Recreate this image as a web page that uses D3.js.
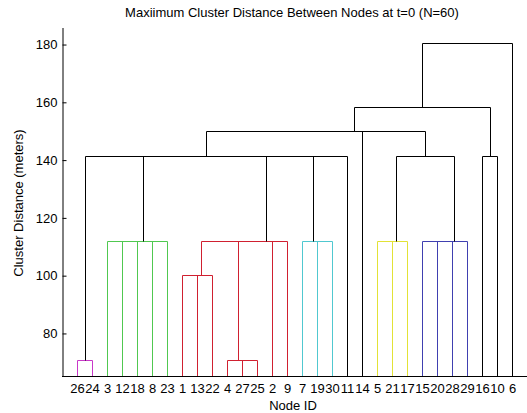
<!DOCTYPE html>
<html>
<head>
<meta charset="utf-8">
<script src="https://cdn.jsdelivr.net/npm/d3@7"></script>
<style>
  body { margin: 0; background: #fff; }
  svg { display: block; font-family: "Liberation Sans", Arial, sans-serif; }
  .axis text { font-size: 13px; fill: #000; }
  .axis path, .axis line { stroke: #000; }
</style>
</head>
<body>
<svg width="527" height="413"></svg>
<script>
// leaves are node ids 1..30, merge k (0-based) creates node 31+k, as in MATLAB's linkage
var nLeaves = 30;
var linkLeft  = [27,  4, 26,  1, 34,  3, 36,  8, 37, 35, 40, 41, 19,  7,  5, 45, 15, 47, 48, 33, 44, 42, 50, 46, 16, 53, 56, 57, 58];
var linkRight = [25, 31, 24, 13, 22, 12, 18, 23, 38, 32,  2,  9, 30, 43, 21, 17, 20, 28, 29, 39, 11, 51, 52, 49, 10, 14, 54, 55,  6];
var linkHeight = [70.71, 70.71, 70.71, 100, 100, 111.80, 111.80, 111.80, 111.80, 111.80, 111.80, 111.80,
                  111.80, 111.80, 111.80, 111.80, 111.80, 111.80, 111.80, 141.42, 141.42, 141.42, 141.42,
                  141.42, 141.42, 150, 150, 158.11, 180.28];
var yTicks = [80, 100, 120, 140, 160, 180];

var groupColors = ["#c838c8", "#50c850", "#d02030", "#50c8d0", "#e2e236", "#4040b0"];
var colorThreshold = 0.7 * d3.max(linkHeight);

var plotLeft = 62, plotRight = 527, plotTop = 27, plotBottom = 376;

var svg = d3.select("svg");

// build node table
var nodes = {};
for (var i = 1; i <= nLeaves; i++) nodes[i] = { id: i, leaf: true, h: 0 };
linkLeft.forEach(function (a, k) {
  var id = nLeaves + 1 + k;
  nodes[id] = { id: id, leaf: false, left: nodes[a], right: nodes[linkRight[k]], h: linkHeight[k] };
});
var root = nodes[nLeaves + linkLeft.length];

// leaf order from traversal
var order = [];
(function walk(n) {
  if (n.leaf) { order.push(n); return; }
  walk(n.left); walk(n.right);
})(root);

var x = d3.scaleLinear().domain([0, nLeaves + 1]).range([plotLeft, plotRight]);
var y = d3.scaleLinear().domain([65.1, 185.9]).range([plotBottom, plotTop]);

order.forEach(function (n, i) { n.x = x(i + 1); });
(function place(n) {
  if (n.leaf) return n.x;
  n.x = (place(n.left) + place(n.right)) / 2;
  return n.x;
})(root);

// colour groups below threshold
var g = 0;
(function colour(n, c) {
  if (n.leaf) return;
  if (c == null && n.h < colorThreshold) c = groupColors[g++ % groupColors.length];
  n.color = c || "#000";
  colour(n.left, c); colour(n.right, c);
})(root, null);

var merges = d3.range(nLeaves + 1, nLeaves + linkLeft.length + 1).map(function (id) { return nodes[id]; });

// snap to pixel centres so stacked bars at equal heights line up
function px(v) { return Math.round(v) + 0.5; }
function yb(h) { return px(y(Math.max(h, y.domain()[0]))); }

svg.append("g")
  .selectAll("path")
  .data(merges)
  .enter().append("path")
    .attr("fill", "none")
    .attr("stroke", function (d) { return d.color; })
    .attr("stroke-width", 1)
    .attr("d", function (d) {
      return "M" + px(d.left.x) + "," + yb(d.left.h) +
             "V" + px(y(d.h)) + "H" + px(d.right.x) +
             "V" + yb(d.right.h);
    });

// axes
svg.append("g")
  .attr("class", "axis")
  .attr("transform", "translate(" + (plotLeft + 0.5) + ",0.5)")
  .call(d3.axisLeft(y).tickValues(yTicks).tickSizeInner(-4).tickSizeOuter(0).tickPadding(5));

svg.append("line")
  .attr("x1", plotLeft).attr("x2", plotRight)
  .attr("y1", plotBottom + 0.5).attr("y2", plotBottom + 0.5)
  .attr("stroke", "#000");

svg.append("g")
  .attr("class", "axis")
  .selectAll("text")
  .data(order)
  .enter().append("text")
    .attr("x", function (d) { return d.x + 0.5; })
    .attr("y", 393)
    .attr("text-anchor", "middle")
    .text(function (d) { return d.id; });

// labels
svg.append("text")
  .attr("x", 292).attr("y", 17)
  .attr("text-anchor", "middle")
  .style("font-size", "13px")
  .text("Maxiimum Cluster Distance Between Nodes at t=0 (N=60)");

svg.append("text")
  .attr("x", 293).attr("y", 410)
  .attr("text-anchor", "middle")
  .style("font-size", "13px")
  .text("Node ID");

svg.append("text")
  .attr("transform", "translate(23,203) rotate(-90)")
  .attr("text-anchor", "middle")
  .style("font-size", "13px")
  .text("Cluster Distance (meters)");
</script>
</body>
</html>
